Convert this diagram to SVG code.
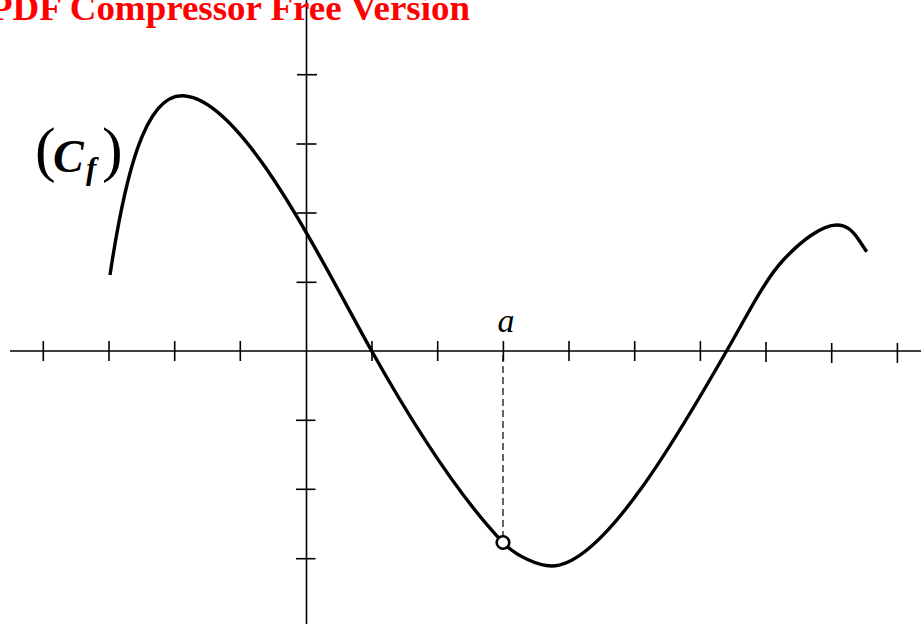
<svg xmlns="http://www.w3.org/2000/svg" width="921" height="624" viewBox="0 0 921 624">
<style>
.axis{stroke:#000;stroke-width:1.6;fill:none}
.tick{stroke:#000;stroke-width:1.6}
.curve{stroke:#000;stroke-width:3.4;fill:none;stroke-linecap:butt;stroke-linejoin:round}
.dash{stroke:#000;stroke-width:1.2;stroke-dasharray:7,4}
.math{font-family:"Liberation Serif","DejaVu Serif",serif;fill:#000}
.bi{font-weight:bold;font-style:italic}
</style>
<rect width="921" height="624" fill="#fff"/>
<g id="axes">
<line class="axis" x1="10" y1="351" x2="921" y2="351"/>
<line class="axis" x1="306.5" y1="0" x2="306.5" y2="624"/>
</g>
<g id="x-ticks">
<line class="tick" x1="43.3" y1="341" x2="43.3" y2="361"/>
<line class="tick" x1="109" y1="341" x2="109" y2="361"/>
<line class="tick" x1="174.7" y1="341" x2="174.7" y2="361"/>
<line class="tick" x1="240.3" y1="341" x2="240.3" y2="361"/>
<line class="tick" x1="372" y1="341" x2="372" y2="361"/>
<line class="tick" x1="437.7" y1="341" x2="437.7" y2="361"/>
<line class="tick" x1="503.4" y1="341" x2="503.4" y2="361"/>
<line class="tick" x1="569" y1="341" x2="569" y2="361"/>
<line class="tick" x1="634.7" y1="341" x2="634.7" y2="361"/>
<line class="tick" x1="700.4" y1="341" x2="700.4" y2="361"/>
<line class="tick" x1="766" y1="342" x2="766" y2="362"/>
<line class="tick" x1="831.7" y1="343" x2="831.7" y2="363"/>
<line class="tick" x1="897.4" y1="343" x2="897.4" y2="363"/>
</g>
<g id="y-ticks">
<line class="tick" x1="297" y1="74.7" x2="317" y2="74.7"/>
<line class="tick" x1="296.5" y1="144" x2="316.5" y2="144"/>
<line class="tick" x1="296.5" y1="213" x2="316.5" y2="213"/>
<line class="tick" x1="296.5" y1="282.3" x2="316.5" y2="282.3"/>
<line class="tick" x1="296" y1="420.3" x2="315.5" y2="420.3"/>
<line class="tick" x1="296" y1="489.3" x2="315.5" y2="489.3"/>
<line class="tick" x1="296" y1="558.7" x2="315.5" y2="558.7"/>
</g>
<g id="connectors">
<line class="dash" x1="503" y1="355" x2="503" y2="536"/>
</g>
<g id="curve">
<path class="curve" d="M110,275 C125,175 145,95.7 181.7,95.7 C241.7,95.7 321.7,262 371.7,351 C421.7,440 463,500.5 503,542.5 C516,556 538,566 551.7,566 C603,566 680,432.5 730,345 C748,313.5 765.3,279.3 783.3,260 C801.3,240.7 822,225 836.7,225 C846,225 852,230 858.7,239.7 L866.7,251.7"/>
</g>
<g id="point-a">
<circle cx="503" cy="542.5" r="6.3" fill="#fff" stroke="#000" stroke-width="2.6"/>
</g>
<g id="label-a">
<text class="math" x="506" y="332" font-size="34" font-style="italic" text-anchor="middle">a</text>
</g>
<g id="label-cf">
<text class="math" x="35" y="170" font-size="62">(</text>
<text class="math bi" x="53" y="172" font-size="46">C</text>
<text class="math bi" x="86" y="179" font-size="31">f</text>
<text class="math" x="102" y="170" font-size="62">)</text>
</g>
<g id="watermark">
<text x="-10" y="20" font-family="'Liberation Serif','Times New Roman',serif" font-size="36" font-weight="bold" fill="#ff0000" textLength="480" lengthAdjust="spacingAndGlyphs">PDF Compressor Free Version</text>
</g>
</svg>
